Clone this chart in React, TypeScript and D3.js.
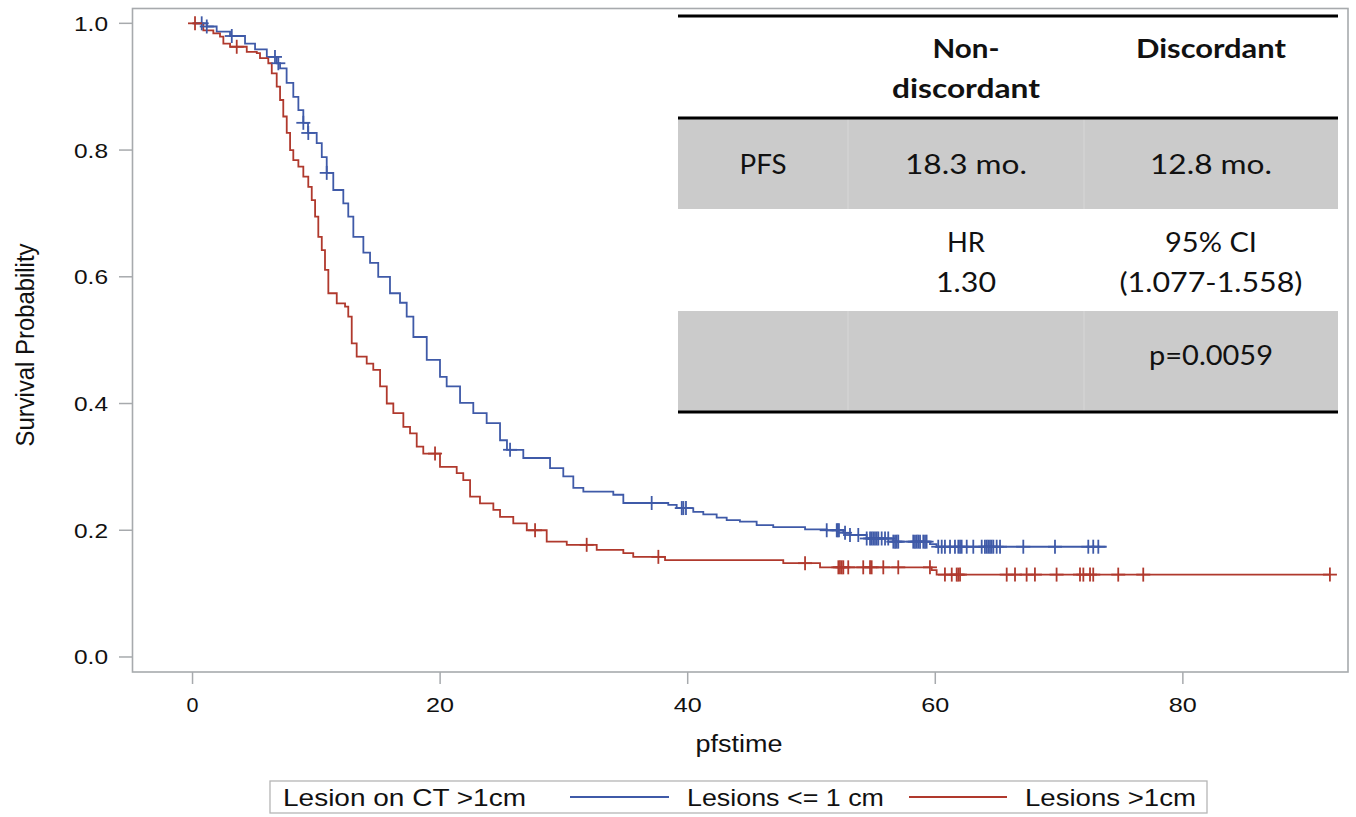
import React from "react";
import * as d3 from "d3";

// ---- Data ----
const blueTimes = [0, 1.15, 1.95, 3.03, 4.24, 5.05, 6.0, 6.8, 7.07, 7.6, 8.14, 8.55, 8.95, 9.33, 10.03, 10.44, 10.84, 11.37, 12.18, 12.58, 12.99, 13.8, 14.34, 15.0, 15.95, 16.76, 17.3, 17.84, 18.92, 19.99, 20.53, 21.61, 22.68, 23.76, 24.84, 25.4, 26.72, 28.88, 29.95, 30.76, 31.57, 33.99, 34.8, 38.43, 39.11, 40.45, 41.26, 42.34, 43.15, 44.22, 45.57, 46.91, 49.48, 51.23, 52.57, 53.11, 54.46, 56.6, 59.57, 60.1];
const blueSurv = [1.0, 0.995, 0.987, 0.98, 0.968, 0.959, 0.947, 0.937, 0.929, 0.906, 0.884, 0.863, 0.843, 0.827, 0.811, 0.789, 0.764, 0.737, 0.716, 0.695, 0.663, 0.638, 0.622, 0.6, 0.574, 0.559, 0.537, 0.505, 0.469, 0.442, 0.427, 0.401, 0.385, 0.369, 0.342, 0.327, 0.314, 0.298, 0.285, 0.267, 0.261, 0.256, 0.243, 0.24, 0.235, 0.229, 0.225, 0.22, 0.216, 0.2135, 0.208, 0.205, 0.2015, 0.2, 0.196, 0.1925, 0.187, 0.182, 0.178, 0.174];
const blueEnd = 73.85;
const blueCensor = [0.74, 1.15, 3.17, 6.66, 6.93, 8.95, 9.35, 10.84, 25.65, 37.09, 39.52, 39.65, 39.86, 51.23, 52.04, 52.12, 52.22, 52.71, 53.11, 53.78, 54.46, 54.73, 54.86, 54.99, 55.13, 55.27, 55.4, 55.67, 55.94, 56.2, 56.61, 56.75, 56.88, 57.01, 58.22, 58.36, 58.5, 58.63, 58.77, 59.03, 59.17, 59.3, 60.24, 60.52, 60.78, 61.19, 61.59, 61.86, 62.0, 62.13, 62.54, 63.07, 63.75, 64.01, 64.15, 64.28, 64.42, 64.55, 64.69, 64.96, 65.23, 67.11, 69.67, 72.36, 72.76, 73.17];

const redTimes = [0, 0.87, 1.68, 2.22, 2.49, 3.03, 4.38, 5.19, 5.45, 6.12, 6.4, 6.8, 7.07, 7.33, 7.61, 7.88, 8.14, 8.55, 8.95, 9.35, 9.63, 9.9, 10.16, 10.44, 10.7, 10.97, 11.65, 12.32, 12.58, 12.86, 13.26, 14.07, 14.6, 15.15, 15.69, 16.22, 17.03, 17.57, 18.11, 18.64, 19.99, 21.34, 21.87, 22.42, 23.22, 24.3, 24.84, 25.91, 27.0, 28.61, 30.23, 32.65, 34.8, 35.6, 38.17, 47.72, 50.69, 59.71, 60.11];
const redSurv = [1.0, 0.989, 0.984, 0.979, 0.968, 0.963, 0.955, 0.953, 0.945, 0.937, 0.921, 0.9, 0.879, 0.853, 0.827, 0.8, 0.784, 0.774, 0.758, 0.742, 0.721, 0.695, 0.663, 0.642, 0.611, 0.574, 0.558, 0.553, 0.537, 0.495, 0.474, 0.463, 0.453, 0.427, 0.4, 0.385, 0.363, 0.353, 0.332, 0.321, 0.3, 0.29, 0.279, 0.253, 0.2425, 0.232, 0.221, 0.211, 0.2, 0.182, 0.177, 0.169, 0.164, 0.158, 0.153, 0.148, 0.1415, 0.137, 0.13];
const redEnd = 91.88;
const redCensor = [0.2, 3.57, 19.59, 27.67, 31.84, 37.63, 49.48, 52.17, 52.3, 52.44, 52.57, 52.97, 54.18, 54.73, 54.86, 55.8, 57.01, 59.57, 60.78, 61.33, 61.73, 61.86, 62.0, 65.77, 66.44, 67.38, 68.05, 69.8, 71.69, 71.96, 72.5, 72.76, 74.78, 76.8, 91.88];

const xTicks = [0, 20, 40, 60, 80];
const yTicks = [0, 0.2, 0.4, 0.6, 0.8, 1.0];

const legendTitle = "Lesion on CT >1cm";
const seriesNames = ["Lesions <= 1 cm", "Lesions >1cm"];
const seriesColors = ["#3F5AA8", "#B0392D"];

const tableHeader = ["", "Non-\ndiscordant", "Discordant"];
const tableRow1 = ["PFS", "18.3 mo.", "12.8 mo."];
const tableRow2 = ["", "HR\n1.30", "95% CI\n(1.077-1.558)"];
const tableRow3 = ["", "", "p=0.0059"];

// ---- Layout ----
const W = 1356, H = 817;
const plotL = 132.5, plotR = 1348, plotT = 8.5, plotB = 672;
const x = d3.scaleLinear().domain([-4.85, 93.34]).range([plotL, plotR]);
const y = d3.scaleLinear().domain([-0.0237, 1.0234]).range([plotB, plotT]);

const axisFont = "'Liberation Sans', Arial, sans-serif";
const tableFont = "Lato, 'Open Sans', sans-serif";

// measured text widths (px) for stretched fonts
const textWidths: Record<string, number> = {
  "0": 12, "20": 28, "40": 28, "60": 28, "80": 28,
  "0.0": 34, "0.2": 34, "0.4": 34, "0.6": 34, "0.8": 34, "1.0": 34,
  "pfstime": 87, "Survival Probability": 203,
  "Lesion on CT >1cm": 243, "Lesions <= 1 cm": 197, "Lesions >1cm": 171,
  "Non-": 67, "discordant": 148, "Discordant": 150, "PFS": 47,
  "18.3 mo.": 122, "12.8 mo.": 122, "HR": 38, "1.30": 60, "95% CI": 92,
  "(1.077-1.558)": 183, "p=0.0059": 124,
};

function survAt(times: number[], surv: number[], t: number) {
  const i = d3.bisectRight(times, t) - 1;
  return surv[Math.max(0, i)];
}

function curvePath(times: number[], surv: number[], end: number) {
  const pts: [number, number][] = times.map((t, i) => [t, surv[i]]);
  pts.push([end, surv[surv.length - 1]]);
  const line = d3.line<[number, number]>()
    .x((d) => x(d[0]))
    .y((d) => y(d[1]))
    .curve(d3.curveStepAfter);
  return line(pts) || "";
}

function Censors({ times, surv, censor, color }: { times: number[]; surv: number[]; censor: number[]; color: string }) {
  const s = 7;
  return (
    <g stroke={color} strokeWidth={1.8}>
      {censor.map((t, i) => {
        const cx = x(t), cy = y(survAt(times, surv, t));
        return (
          <g key={i}>
            <line x1={cx} x2={cx} y1={cy - s} y2={cy + s} />
            <line x1={cx - s} x2={cx + s} y1={cy} y2={cy} />
          </g>
        );
      })}
    </g>
  );
}

function T({ txt, xPos, yPos, size, anchor = "middle", font = axisFont, weight = "normal", transform }: any) {
  const w = textWidths[txt];
  return (
    <text x={xPos} y={yPos} fontSize={size} fontFamily={font} fontWeight={weight} textAnchor={anchor}
      fill="#111" transform={transform}
      {...(w ? { textLength: w, lengthAdjust: "spacingAndGlyphs" } : {})}>
      {txt}
    </text>
  );
}

export default function App() {
  const colL = [678, 848, 1084, 1338];
  const colC = [763, 966, 1211];
  const tabL = 678, tabR = 1338;
  const rowTop = [16, 118, 209, 311, 412];
  const fs = 27;

  const cell = (content: string, col: number, baselines: number[], bold = false) =>
    content.split("\n").map((line, k) =>
      line ? <T key={col + "-" + k} txt={line} xPos={colC[col]} yPos={baselines[k]} size={fs} font={tableFont} weight={bold ? "bold" : "normal"} /> : null
    );

  return (
    <svg width={W} height={H} style={{ position: "absolute", left: 0, top: 0, background: "#fff" }}>
      <rect x={0} y={0} width={W} height={H} fill="#fff" />
      {/* table */}
      <g>
        <rect x={tabL} y={rowTop[1]} width={tabR - tabL} height={rowTop[2] - rowTop[1]} fill="#cbcbcb" />
        <rect x={tabL} y={rowTop[3]} width={tabR - tabL} height={rowTop[4] - rowTop[3]} fill="#cbcbcb" />
        {[colL[1], colL[2]].map((cx) => (
          <g key={cx} stroke="#d6d6d6" strokeWidth={1.2}>
            <line x1={cx} x2={cx} y1={rowTop[1]} y2={rowTop[2]} />
            <line x1={cx} x2={cx} y1={rowTop[3]} y2={rowTop[4]} />
          </g>
        ))}
        {[rowTop[0], rowTop[1], rowTop[4]].map((ry) => (
          <line key={ry} x1={tabL} x2={tabR} y1={ry} y2={ry} stroke="#000" strokeWidth={3} />
        ))}
        {tableHeader.map((c, i) => cell(c, i, i === 2 ? [58] : [58, 98], true))}
        {tableRow1.map((c, i) => cell(c, i, [174]))}
        {tableRow2.map((c, i) => cell(c, i, [252, 292]))}
        {tableRow3.map((c, i) => cell(c, i, [365]))}
      </g>

      {/* curves */}
      <path d={curvePath(blueTimes, blueSurv, blueEnd)} fill="none" stroke={seriesColors[0]} strokeWidth={1.8} />
      <path d={curvePath(redTimes, redSurv, redEnd)} fill="none" stroke={seriesColors[1]} strokeWidth={1.8} />
      <Censors times={blueTimes} surv={blueSurv} censor={blueCensor} color={seriesColors[0]} />
      <Censors times={redTimes} surv={redSurv} censor={redCensor} color={seriesColors[1]} />

      {/* frame */}
      <rect x={plotL} y={plotT} width={plotR - plotL} height={plotB - plotT} fill="none" stroke="#a7aaad" strokeWidth={1.6} />
      {/* y axis */}
      {yTicks.map((v) => (
        <g key={v}>
          <line x1={119} x2={plotL} y1={y(v)} y2={y(v)} stroke="#a7aaad" strokeWidth={1.5} />
          <T txt={v.toFixed(1)} xPos={108} yPos={y(v) + 7.5} size={20.5} anchor="end" />
        </g>
      ))}
      {/* x axis */}
      {xTicks.map((v) => (
        <g key={v}>
          <line x1={x(v)} x2={x(v)} y1={plotB} y2={684} stroke="#a7aaad" strokeWidth={1.5} />
          <T txt={String(v)} xPos={x(v)} yPos={712} size={20.5} />
        </g>
      ))}
      <T txt="pfstime" xPos={739} yPos={752} size={23} />
      <T txt="Survival Probability" xPos={0} yPos={0} size={25} transform="translate(34,345) rotate(-90)" />

      {/* legend */}
      <rect x={270} y={781} width={937} height={32} fill="#fff" stroke="#b5b5b5" strokeWidth={1.3} />
      <T txt={legendTitle} xPos={283} yPos={806} size={24} anchor="start" />
      <line x1={570} x2={669} y1={797} y2={797} stroke={seriesColors[0]} strokeWidth={1.8} />
      <T txt={seriesNames[0]} xPos={687} yPos={806} size={24} anchor="start" />
      <line x1={909} x2={1007} y1={797} y2={797} stroke={seriesColors[1]} strokeWidth={1.8} />
      <T txt={seriesNames[1]} xPos={1025} yPos={806} size={24} anchor="start" />
    </svg>
  );
}
